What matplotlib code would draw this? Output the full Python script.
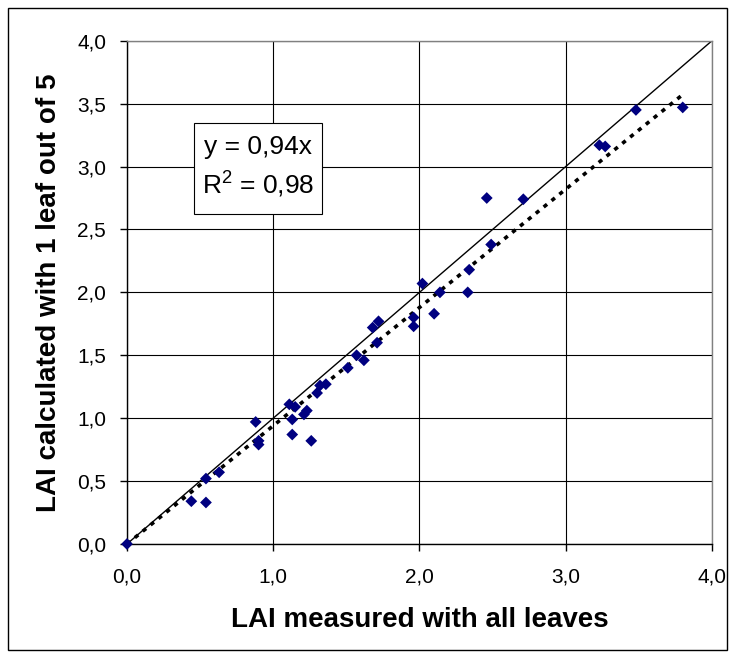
import numpy as np
import matplotlib as mpl
import matplotlib.pyplot as plt
from matplotlib.ticker import FuncFormatter
from matplotlib.patches import Rectangle

mpl.rcParams.update({
    "font.family": ["Liberation Sans", "DejaVu Sans"],
    "axes.linewidth": 1.0,
})

# LAI measured with all leaves vs LAI from 1 leaf out of 5
lai_all = [0.00, 0.44, 0.54, 0.54, 0.63, 0.88, 0.90, 0.90,
           1.11, 1.15, 1.13, 1.13, 1.21, 1.23, 1.26, 1.30, 1.32, 1.36,
           1.51, 1.57, 1.62, 1.68, 1.72, 1.71, 1.96, 1.96, 2.02, 2.10,
           2.14, 2.33, 2.34, 2.46, 2.49, 2.71, 3.23, 3.27, 3.48, 3.80]
lai_one = [0.00, 0.34, 0.33, 0.52, 0.57, 0.97, 0.82, 0.79,
           1.11, 1.09, 0.99, 0.87, 1.03, 1.06, 0.82, 1.20, 1.26, 1.27,
           1.40, 1.50, 1.46, 1.72, 1.77, 1.60, 1.80, 1.73, 2.07, 1.83,
           2.00, 2.00, 2.18, 2.75, 2.38, 2.74, 3.17, 3.16, 3.45, 3.47]
slope = 0.94
r2 = 0.98

fig = plt.figure(figsize=(7.34, 6.57), dpi=100)
ax = fig.add_axes([0.173, 0.172, 0.797, 0.766])

# 1:1 line
ax.plot([0, 4], [0, 4], color="black", lw=1.0, zorder=2)
# linear trend through origin
xt = np.array([0, max(lai_all)])
ax.plot(xt, slope * xt, color="black", lw=2.6, ls=(0, (1.2, 1.6)), zorder=3)

ax.scatter(lai_all, lai_one, marker="D", s=36, color="#000080",
           edgecolors="none", zorder=4, clip_on=False)

ax.set_xlim(0, 4)
ax.set_ylim(0, 4)
ax.set_xticks(np.arange(0, 4.01, 1.0))
ax.set_yticks(np.arange(0, 4.01, 0.5))
fmt = FuncFormatter(lambda v, p: f"{v:.1f}".replace(".", ","))
ax.xaxis.set_major_formatter(fmt)
ax.yaxis.set_major_formatter(fmt)
ax.tick_params(direction="out", length=5, width=1.0, labelsize=15)
ax.tick_params(axis="x", pad=12)
ax.tick_params(axis="y", pad=10)
ax.grid(True, color="black", lw=0.8)
for s in ["top", "right"]:
    ax.spines[s].set_color("#808080")

ax.set_xlabel("LAI measured with all leaves", fontsize=20, fontweight="bold",
              labelpad=15)
ax.set_ylabel("LAI calculated with 1 leaf out of 5", fontsize=20,
              fontweight="bold", labelpad=11)

# equation box
ax.add_patch(Rectangle((0.46, 2.624), 0.873, 0.724, fc="white", ec="black",
                       lw=0.8, zorder=5))
ax.text(0.896, 2.99, f"y = {slope:.2f}x\n$\\mathregular{{R^2}}$ = {r2:.2f}".replace(".", ","),
        fontsize=19, ha="center", va="center", linespacing=1.45, zorder=6)

fig.patches.append(Rectangle((8 / 734, 1 - 650 / 657), 719 / 734, 642 / 657,
                             transform=fig.transFigure, fill=False,
                             ec="black", lw=1.0))

fig.savefig("out.png", dpi=100)
